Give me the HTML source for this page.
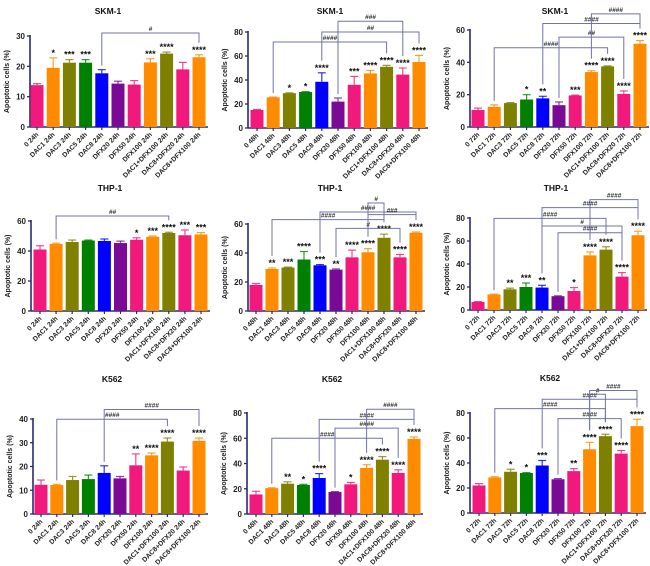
<!DOCTYPE html>
<html><head><meta charset="utf-8"><style>
html,body{margin:0;padding:0;background:#fff;width:650px;height:566px;overflow:hidden}
svg text{font-family:"Liberation Sans",sans-serif}
</style></head><body>
<svg id="fig" width="650" height="566" viewBox="0 0 650 566" xmlns="http://www.w3.org/2000/svg"></svg>
<script>
// ---- data ----
const conds = ["0","DAC1","DAC3","DAC5","DAC8","DFX20","DFX50","DFX100","DAC1+DFX100","DAC8+DFX20","DAC8+DFX100"];
const times = ["24h","48h","72h"];
const cells = ["SKM-1","THP-1","K562"];
const vals1 = [13.8,19.5,21.2,21.2,17.7,14.3,14,21.3,24.2,19,23];
const errs1 = [0.5,3.3,1,1,1.2,0.8,1.3,1.2,0.5,2.3,0.8];
const stars1 = ["","*","***","***","","","","***","****","","****"];
const br1 = [[4,10,31,"#"]];
const vals2 = [15,25.5,29,30,38.5,22,36,45.5,51,44.5,55];
const errs2 = [0.5,0.3,0.3,0.3,7.5,3,7,2.5,1.2,5.5,5.5];
const stars2 = ["","","*","*","****","","***","****","****","****","****"];
const br2 = [[1,8,71.7,"####"],[4,10,80,"##"],[5,9,89,"###"]];
const vals3 = [10.5,12.5,14.8,17,17.7,13.5,19.5,34,37.5,20.5,51.5];
const errs3 = [1.2,1.2,0.3,3,1.3,2,0.2,0.8,0.3,1.8,2];
const stars3 = ["","","","*","**","","***","****","****","****","****"];
const br3 = [[1,8,49,"####"],[5,9,55.6,"##"],[4,10,64,"####"],[7,10,70,"####"]];
const vals4 = [41,44.7,46,47,46.7,45.3,47.5,49.5,52,50.5,51];
const errs4 = [2.5,0.5,1.3,0.3,1.3,1.3,1.3,0.5,0.5,3.5,1.3];
const stars4 = ["","","","","","","*","***","****","***","***"];
const br4 = [[1,8,63.3,"##"]];
const vals5 = [18,29,30,35.5,31.5,28.5,37,40.5,50.5,37,54];
const errs5 = [1,0.7,0.3,5.5,0.5,0.5,5,2.5,2.5,2,0.5];
const stars5 = ["","**","***","****","***","**","****","****","****","****","****"];
const br5 = [[1,8,63,"####"],[4,10,68.3,"####"],[7,10,66.5,"###"],[5,9,57,"#"],[7,8,74.5,"#"]];
const vals6 = [7,13.5,18,20,19.5,12,16.5,47.5,52.5,29,65];
const errs6 = [0.3,0.3,1,3.5,2,0.3,3,3,2.5,3.5,3.5];
const stars6 = ["","","**","***","**","","*","****","****","****","****"];
const br6 = [[1,8,79.7,"####"],[5,9,67.2,"####"],[4,9,73,"#"],[4,10,89,"####"],[7,10,96,"####"]];
const vals7 = [12.3,12.2,14.3,14.7,17.3,15,20.5,24.7,30.5,18.3,30.8];
const errs7 = [2,0.3,1.5,1.7,3,0.8,4.8,1,1.5,1.5,1.2];
const stars7 = ["","","","","","","**","****","****","","****"];
const br7 = [[1,8,39.9,"####"],[4,10,44,"####"]];
const vals8 = [15.5,20.5,24,23,28.5,17.5,23.5,36.5,43,32.5,59.5];
const errs8 = [2.5,0.3,1.5,0.5,3.5,0.2,1.5,2.5,2.5,2.5,1.5];
const stars8 = ["","","**","*","****","","*","****","****","****","****"];
const br8 = [[1,8,60,"####"],[5,9,68,"####"],[4,10,75,"####"],[7,10,83,"####"]];
const vals9 = [22,28.5,33,32,38,27,33.5,51,61.5,47.5,69.5];
const errs9 = [1.5,0.5,2,0.3,4,0.5,2,5.5,1.5,2.5,5.5];
const stars9 = ["","","*","*","***","","**","****","****","****","****"];
const br9 = [[1,8,83.5,"####"],[5,9,75.5,"####"],[4,10,91,"####"],[7,8,95,"#"],[7,10,98,"####"]];
const yMaxes = [30,80,60,60,60,80,40,80,80];
const ySteps = [10,20,20,20,20,20,10,20,20];

// ---- layout (pixels) ----
const geo = [
 {ax:30,b0:37,b1:199,top:36,bot:127,tx:108,ty:14},
 {ax:248,b0:257,b1:419,top:32,bot:128,tx:330,ty:14},
 {ax:470,b0:478,b1:640,top:30,bot:127,tx:555,ty:14},
 {ax:31,b0:40,b1:201,top:221,bot:311,tx:110,ty:191},
 {ax:248,b0:256,b1:416,top:224,bot:311,tx:330,ty:191},
 {ax:470,b0:478,b1:638,top:218,bot:310,tx:556,ty:191},
 {ax:33,b0:41,b1:199,top:419,bot:514,tx:112,ty:382},
 {ax:247,b0:256,b1:414,top:413,bot:514,tx:332,ty:382},
 {ax:470,b0:479,b1:637,top:413,bot:513,tx:550,ty:381}
];
const colors = ["#f2197d","#ff8c00","#808000","#008000","#0000ff","#7a0a96","#f2197d","#ff8c00","#808000","#f2197d","#ff8c00"];
const allVals=[vals1,vals2,vals3,vals4,vals5,vals6,vals7,vals8,vals9];
const allErrs=[errs1,errs2,errs3,errs4,errs5,errs6,errs7,errs8,errs9];
const allStars=[stars1,stars2,stars3,stars4,stars5,stars6,stars7,stars8,stars9];
const allBr=[br1,br2,br3,br4,br5,br6,br7,br8,br9];

const NS="http://www.w3.org/2000/svg";
const svg=document.getElementById('fig');
function mk(tag,attrs,parent,text){const e=document.createElementNS(NS,tag);for(const k in attrs)e.setAttribute(k,attrs[k]);if(text!==undefined)e.textContent=text;(parent||svg).appendChild(e);return e;}

for(let p=0;p<9;p++){
 const g=geo[p], vals=allVals[p], errs=allErrs[p], stars=allStars[p], brs=allBr[p];
 const ymax=yMaxes[p], step=ySteps[p];
 const row=Math.floor(p/3), col=p%3;
 const panel=mk('g',{});
 
 
 const Y=v=>g.bot-(v/ymax)*(g.bot-g.top);
 const X=i=>g.b0+i*(g.b1-g.b0)/(vals.length-1);
 const t=mk('text',{x:g.tx,y:g.ty,'text-anchor':'middle','font-size':8.5,'font-weight':'bold',fill:'#111'},panel,cells[row]);
 
 
 // y axis
 const ya=mk('line',{x1:g.ax,y1:g.top-1,x2:g.ax,y2:g.bot,stroke:'#2a2a70','stroke-width':1.6},panel);
 
 
 for(let v=0;v<=ymax+1e-9;v+=step){
  mk('line',{x1:g.ax-3,y1:Y(v),x2:g.ax,y2:Y(v),stroke:'#2a2a70','stroke-width':1.3},panel);
  const tl=mk('text',{x:g.ax-5,y:Y(v)+3,'text-anchor':'end','font-size':8,'font-weight':'bold',fill:'#222'},panel,String(v));
  
  
 }
 const yt=mk('text',{x:0,y:0,'text-anchor':'middle','font-size':7,'font-weight':'bold',fill:'#222',transform:`translate(${g.ax-21},${(g.top+g.bot)/2}) rotate(-90)`},panel,'Apoptotic cells (%)');
 
 
 // x axis
 const xa=mk('line',{x1:g.ax,y1:g.bot,x2:X(vals.length-1)+9,y2:g.bot,stroke:'#2a2a70','stroke-width':1.6},panel);
 
 
 for(let i=0;i<vals.length;i++){
  const x=X(i), c=colors[i];
  const b=mk('rect',{x:x-6.5,y:Y(vals[i]),width:13,height:g.bot-Y(vals[i]),fill:c},panel);
  
  
  const et=Y(vals[i]+errs[i]);
  mk('line',{x1:x,y1:Y(vals[i]),x2:x,y2:et,stroke:c,'stroke-width':1.2,opacity:0.8},panel);
  mk('line',{x1:x-4,y1:et,x2:x+4,y2:et,stroke:c,'stroke-width':1.2,opacity:0.8},panel);
  mk('line',{x1:x,y1:g.bot,x2:x,y2:g.bot+3,stroke:'#2a2a70','stroke-width':1.2},panel);
  if(stars[i]){
   const s=mk('text',{x:x,y:et-2,'text-anchor':'middle','font-size':9,'font-weight':'bold',fill:'#111'},panel,stars[i]);
   
   
  }
  const xl=mk('text',{x:0,y:0,'text-anchor':'end','font-size':6.8,'font-weight':'bold',fill:'#222',transform:`translate(${x+2},${g.bot+8}) rotate(-45)`},panel,conds[i]+' '+times[col]);
  
  
 }
 for(const br of brs){
  const [a,bI,lvl,lab]=br;
  const yl=Y(lvl);
  const endA=Math.min(Y(vals[a]+errs[a])-(stars[a]?12:4),g.bot);
  const endB=Math.min(Y(vals[bI]+errs[bI])-(stars[bI]?12:4),g.bot);
  const pl=mk('polyline',{points:`${X(a)},${endA} ${X(a)},${yl} ${X(bI)},${yl} ${X(bI)},${endB}`,fill:'none',stroke:'#7073a8','stroke-width':1},panel);
  
  
  const bl=mk('text',{x:(X(a)+X(bI))/2,y:yl-2,'text-anchor':'middle','font-size':6.5,'font-style':'italic','font-weight':'bold',fill:'#333'},panel,lab);
  
  
 }
}
</script>
</body></html>
